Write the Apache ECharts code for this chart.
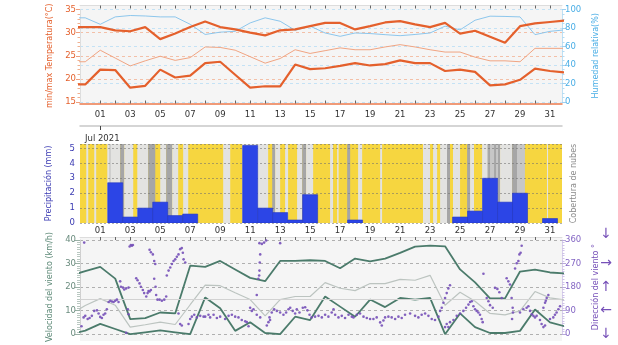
<!DOCTYPE html>
<html>
<head>
<meta charset="utf-8">
<script src="https://cdn.jsdelivr.net/npm/echarts@6/dist/echarts.min.js"></script>
<style>
  html, body { margin: 0; padding: 0; background: #ffffff; }
  #chart { width: 618px; height: 345px; }
</style>
</head>
<body>
<div id="chart"></div>
<script>
// Day-of-month positions (-1 = 29 Jun, 32 = 1 Aug), one reading per day
const dayPos = [-1, 0, 1, 2, 3, 4, 5, 6, 7, 8, 9, 10, 11, 12, 13, 14, 15, 16,
  17, 18, 19, 20, 21, 22, 23, 24, 25, 26, 27, 28, 29, 30, 31, 32];

// Temperature (°C)
const tempMax = [31.2, 31.2, 31.2, 30.5, 30.3, 31.2, 28.6, 29.8, 31.2, 32.4, 31.2, 30.7,
  30.0, 29.4, 30.5, 30.7, 31.4, 32.1, 32.1, 30.7, 31.4, 32.2, 32.5, 31.8, 31.2, 32.1,
  29.8, 30.4, 29.1, 27.8, 31.4, 32.0, 32.3, 32.6];
const tempMin = [18.8, 18.8, 22.0, 21.9, 18.1, 18.5, 22.0, 20.3, 20.7, 23.4, 23.7, 20.9,
  18.1, 18.4, 18.4, 23.1, 22.1, 22.3, 22.8, 23.4, 22.9, 23.2, 24.0, 23.4, 23.4, 21.7,
  22.0, 21.5, 18.6, 18.8, 19.8, 22.2, 21.7, 21.4];
const tempMean = [23.7, 23.7, 26.2, 24.5, 22.8, 23.9, 24.9, 24.0, 24.6, 26.9, 26.8, 26.2,
  24.8, 23.4, 24.4, 26.3, 25.5, 26.1, 26.7, 26.3, 26.3, 26.9, 27.4, 26.9, 26.3, 25.8,
  25.8, 24.7, 23.9, 23.9, 23.7, 26.6, 26.6, 26.6];

// Relative humidity (%)
const humidity = [91, 91, 84, 92, 93.5, 93, 92, 92, 84, 73, 75.5, 76.4, 85.5, 91, 87.3,
  77.5, 82, 74.6, 71, 74.6, 74, 72.8, 71.7, 73, 74.6, 82, 78, 88.4, 92.8, 92.5, 92,
  72.8, 76.4, 78];

// Daily precipitation (mm)
const rainDays = [2, 3, 4, 5, 6, 7, 11, 12, 13, 14, 15, 18, 25, 26, 27, 28, 29, 31];
const rainMm = [2.7, 0.4, 1.0, 1.4, 0.5, 0.6, 5.2, 1.0, 0.7, 0.2, 1.9, 0.2, 0.4, 0.8, 3.0, 1.4, 2.0, 0.3];

// Cloudy spells: [from day, to day, cover level 1 = thin .. 3 = overcast]
const cloudSpells = [
  [0.07, 0.2, 1], [0.6, 0.73, 1], [1.47, 2.33, 1], [1.6, 1.7, 2], [2.33, 2.6, 3], [2.6, 3.2, 1],
  [3.47, 4.2, 1], [4.2, 4.67, 3], [5.0, 5.4, 1], [5.4, 5.8, 3], [5.8, 6.2, 1], [6.53, 6.87, 1],
  [9.2, 9.67, 1], [10.47, 12.2, 1], [12.47, 12.67, 3], [12.67, 13.0, 1], [13.33, 13.53, 1],
  [14.13, 14.47, 1], [14.47, 14.73, 3], [14.73, 15.2, 1], [16.33, 16.53, 1], [16.8, 16.9, 1],
  [17.47, 17.67, 3], [18.2, 18.47, 1], [19.67, 19.8, 1],
  [22.53, 23.0, 1], [23.2, 23.47, 1], [23.67, 24.13, 1], [24.13, 24.33, 3], [24.53, 25.0, 1],
  [25.47, 25.67, 3], [25.67, 25.93, 1], [26.47, 26.8, 1], [26.8, 27.67, 2], [26.87, 27.0, 3],
  [27.27, 27.4, 3], [27.53, 27.67, 3], [27.67, 28.47, 1], [28.47, 28.8, 3], [28.8, 29.33, 2],
  [30.8, 30.87, 1]
];

// Wind speed (km/h)
const windMax = [24.9, 26.8, 28.6, 23.6, 6.4, 6.8, 9.2, 8.8, 29.1, 28.6, 31.1, 27.5, 23.9,
  22.5, 31.1, 31.1, 31.4, 31.1, 28.0, 32.1, 30.9, 32.1, 34.5, 37.2, 37.6, 37.3, 27.5, 22.0,
  15.2, 15.2, 26.6, 27.4, 26.2, 25.8];
const windMean = [8.3, 12.2, 15.1, 12.3, 3.0, 4.0, 5.1, 4.1, 12.5, 20.8, 20.6, 17.6, 14.7,
  7.8, 14.7, 16.0, 16.0, 21.9, 19.5, 18.5, 21.5, 21.5, 23.3, 22.9, 25.0, 12.3, 17.8, 14.0,
  8.8, 8.2, 9.9, 18.1, 15.4, 14.5];
const windMin = [0, 1.5, 4.4, 2.2, 0, 0.8, 1.6, 0.8, 0, 15.6, 11.0, 1.4, 5.1, 0.5, 0, 7.4,
  6.0, 16.0, 11.7, 7.4, 14.7, 11.5, 15.4, 14.7, 15.4, 0, 8.8, 3.0, 0.5, 0.5, 1.4, 10.5,
  5.0, 3.3];
// Reference speed line (km/h)
const windRef = 15;

// Wind direction readings: [day, degrees]
const windDir = [
  [-0.25, 30], [-0.07, 350], [-0.11, 64], [0, 70], [0.16, 58], [0.29, 62], [0.44, 70], [0.6, 89],
  [0.78, 91], [0.89, 79], [1.0, 66], [1.11, 62], [1.22, 74], [1.33, 79], [1.44, 95],
  [1.56, 123], [1.67, 128], [1.78, 125], [1.89, 123], [2.0, 128], [2.11, 132], [2.22, 123],
  [2.33, 202], [2.38, 181], [2.51, 178], [2.6, 171], [2.73, 175], [2.89, 178],
  [2.96, 335], [3.04, 341], [3.11, 338], [3.18, 341], [2.84, 95], [2.89, 76], [2.73, 5],
  [3.4, 214], [3.49, 206], [3.62, 194], [3.71, 181], [3.84, 169], [3.93, 157], [4.07, 144],
  [4.16, 157], [4.22, 165], [4.29, 163], [4.38, 169],
  [4.29, 323], [4.38, 313], [4.51, 305], [4.6, 280], [4.67, 268],
  [4.6, 212], [4.69, 181], [4.73, 150],
  [4.82, 132], [4.96, 132], [5.11, 128], [5.27, 132], [5.4, 144],
  [5.44, 224], [5.56, 243], [5.67, 255], [5.78, 268], [5.89, 280], [6.0, 286], [6.11, 296],
  [6.22, 305], [6.33, 325], [6.44, 329], [6.51, 311], [6.56, 286], [6.67, 274],
  [6.22, 79], [6.33, 39], [6.44, 33],
  [6.89, 39], [7.0, 58], [7.11, 67], [7.27, 74], [7.44, 64], [7.67, 70], [7.89, 67], [8.0, 67],
  [8.22, 74], [8.33, 64], [8.56, 74], [8.78, 62], [9.0, 67], [9.33, 58], [9.56, 70], [9.78, 74],
  [10.0, 67], [10.22, 64], [10.44, 54], [10.67, 49], [10.78, 46], [10.89, 30],
  [11.0, 101], [11.11, 89], [11.22, 95], [11.44, 150], [11.44, 74], [11.55, 212], [11.6, 224],
  [11.62, 243], [11.64, 274], [11.67, 305], [11.62, 348], [11.78, 345], [11.93, 350],
  [12.07, 358], [11.67, 64],
  [12.11, 33], [12.22, 46], [12.29, 64], [12.33, 54], [13.0, 348],
  [12.44, 83], [12.6, 95], [12.78, 89], [13.0, 83], [13.22, 74], [13.4, 83], [13.56, 95],
  [13.67, 101], [13.84, 89], [14.0, 79], [14.11, 95], [14.29, 83], [14.51, 101], [14.67, 103],
  [14.82, 91],
  [14.96, 74], [15.1, 64], [15.33, 67], [15.56, 70], [15.78, 64], [16.0, 74], [16.22, 67],
  [16.44, 83], [16.56, 95], [16.67, 74], [16.89, 64], [17.11, 70], [17.33, 62], [17.56, 74],
  [17.78, 67], [17.89, 64], [18.11, 74], [18.33, 79], [18.56, 67], [18.78, 62], [19.0, 58],
  [19.22, 58], [19.44, 64], [19.67, 45], [19.78, 33], [19.89, 52], [20.0, 64], [20.22, 67],
  [20.44, 64], [20.67, 58], [20.89, 67],
  [21.11, 62], [21.33, 74], [21.67, 79], [22.0, 70], [22.22, 64], [22.44, 74], [22.67, 79],
  [22.89, 70], [23.11, 58], [23.33, 54], [23.56, 67],
  [23.67, 89], [23.78, 101], [23.89, 120], [24.0, 138], [24.11, 157], [24.22, 175], [24.33, 187],
  [24.0, 27], [24.11, 39], [24.22, 27], [24.33, 46],
  [24.56, 54], [24.78, 70], [25.0, 79], [25.22, 89], [25.4, 101], [25.56, 113], [25.67, 123],
  [25.78, 126], [25.89, 107], [26.0, 95], [26.11, 89], [26.22, 83], [26.33, 74], [26.44, 58],
  [26.51, 46], [26.56, 231],
  [26.78, 138], [26.89, 126], [27.0, 111], [27.18, 101],
  [27.33, 177], [27.49, 173], [27.62, 160], [27.78, 138],
  [28.11, 214], [28.22, 202], [28.33, 190], [28.44, 138], [28.51, 101], [28.53, 83], [28.47, 58],
  [28.67, 251], [28.78, 271], [28.89, 280], [28.96, 305], [29.04, 311], [29.11, 338],
  [29.0, 83], [29.22, 95], [29.44, 101], [29.56, 107], [29.67, 89], [29.78, 76], [29.89, 70],
  [30.0, 64], [30.11, 70], [30.33, 54], [30.44, 39], [30.56, 27], [30.67, 33],
  [30.56, 101], [30.67, 120], [30.72, 128], [30.78, 138], [30.89, 150],
  [31.0, 58], [31.22, 64], [31.33, 74], [31.44, 83], [31.56, 95], [31.67, 107]
];

// Axis ticks and labels
const tickDays = [1, 2, 3, 4, 5, 6, 7, 8, 9, 10, 11, 12, 13, 14, 15, 16, 17, 18, 19, 20,
  21, 22, 23, 24, 25, 26, 27, 28, 29, 30, 31];
const labelDays = [1, 3, 5, 7, 9, 11, 13, 15, 17, 19, 21, 23, 25, 27, 29, 31];
const monthTick = [1];
const compass = { 0: '↓', 90: '←', 180: '↑', 270: '→', 360: '{top|↓}' };

// ---- rendering ----
const FONT = 'DejaVu Sans';
const X_MIN = -0.35, X_MAX = 31.8;
const C_TEMP = '#e4602c', C_HUM = '#4aaee6', C_RAIN = '#3a3ab2', C_WIND = '#4b7b6b', C_DIR = '#7650b8';
const cloudColors = { 1: '#e3e3e1', 2: '#c7c7c7', 3: '#a6a6a6' };

const pairs = vals => vals.map((v, i) => [dayPos[i], v]);
const pad2 = v => (v < 10 ? '0' : '') + v;

function dayAxis(grid, pos, extra) {
  const axis = Object.assign({
    type: 'value', gridIndex: grid, position: pos, min: X_MIN, max: X_MAX,
    axisLine: { show: false }, axisTick: { show: false }, axisLabel: { show: false },
    splitLine: { show: false }
  }, extra);
  // keep each day axis on its own panel edge
  axis.axisLine = Object.assign({ onZero: false }, axis.axisLine);
  return axis;
}

const chart = echarts.init(document.getElementById('chart'), null, { renderer: 'canvas' });

const option = {
  animation: false,
  backgroundColor: '#ffffff',
  textStyle: { fontFamily: FONT },
  title: {
    text: 'Jul 2021', left: 80, top: 129,
    textStyle: { fontFamily: FONT, fontSize: 8.5, fontWeight: 'normal', color: '#333' }
  },
  grid: [
    { left: 80, right: 56, top: 5, height: 98, show: true, backgroundColor: '#f5f5f5', borderWidth: 0 },
    { left: 80, right: 56, top: 9.5, height: 92.5 },
    { left: 80, right: 56, top: 144, height: 79, show: true, backgroundColor: '#f6d640', borderWidth: 0 },
    { left: 80, right: 56, top: 237, height: 104, show: true, backgroundColor: '#f5f5f5', borderWidth: 0 },
    { left: 80, right: 56, top: 240, height: 97.3 }
  ],
  xAxis: [
    dayAxis(0, 'bottom'),
    // top panel: orange base line with labels
    dayAxis(1, 'bottom', {
      offset: 1.5,
      axisLine: { show: true, lineStyle: { color: '#ec7a4c', width: 1.5 } },
      axisTick: { show: true, inside: true, length: 3, customValues: tickDays, lineStyle: { color: '#666' } },
      axisLabel: { show: true, customValues: labelDays, formatter: pad2, fontSize: 8.5, color: '#333', margin: 7 }
    }),
    dayAxis(1, 'top', {
      offset: 4,
      axisLine: { show: true, lineStyle: { color: '#dddddd' } },
      axisTick: { show: true, inside: true, length: 3, customValues: tickDays, lineStyle: { color: '#666' } }
    }),
    // middle panel
    dayAxis(2, 'bottom', {
      axisLabel: { show: true, customValues: labelDays, formatter: pad2, fontSize: 8.5, color: '#333', margin: 3 }
    }),
    dayAxis(2, 'top', {
      offset: 18,
      axisLine: { show: true, lineStyle: { color: '#c8c8c8', width: 1.5 } },
      axisTick: { show: true, inside: true, length: 4, customValues: monthTick, lineStyle: { color: '#444' } }
    }),
    dayAxis(3, 'bottom'),
    // bottom panel
    dayAxis(4, 'top', {
      offset: 3,
      axisLine: { show: true, lineStyle: { color: '#dddddd' } },
      axisTick: { show: true, inside: true, length: 3, customValues: tickDays, lineStyle: { color: '#666' } }
    }),
    dayAxis(4, 'bottom')
  ],
  yAxis: [
    { type: 'value', gridIndex: 0, show: false },
    // 1: temperature
    {
      type: 'value', gridIndex: 1, position: 'left', min: 15, max: 35, interval: 5,
      name: 'min/max Temperatura(°C)', nameLocation: 'middle', nameGap: 23,
      nameTextStyle: { color: C_TEMP, fontSize: 8, fontFamily: FONT },
      axisLine: { show: true, onZero: false, lineStyle: { color: '#dddddd' } },
      axisTick: { show: true, length: 4, lineStyle: { color: '#f0a080' } },
      minorTick: { show: true, splitNumber: 5, length: 2.5, lineStyle: { color: '#f0b090' } },
      axisLabel: { color: C_TEMP, fontSize: 8.5, margin: 4 },
      splitLine: { show: true, lineStyle: { color: '#f3c0a8', type: [3, 3], width: 1 } }
    },
    // 2: humidity
    {
      type: 'value', gridIndex: 1, position: 'right', min: 0, max: 100, interval: 20,
      name: 'Humedad relativa(%)', nameLocation: 'middle', nameGap: 25,
      nameTextStyle: { color: C_HUM, fontSize: 8, fontFamily: FONT },
      axisLine: { show: true, onZero: false, lineStyle: { color: '#bfe0f4' } },
      axisTick: { show: true, length: 4, lineStyle: { color: '#9fd0f0' } },
      minorTick: { show: true, splitNumber: 4, length: 2.5, lineStyle: { color: '#b5dcf3' } },
      axisLabel: { color: C_HUM, fontSize: 8.5, margin: 3 },
      splitLine: { show: true, lineStyle: { color: '#c4e2f5', type: [3, 3], width: 1 } }
    },
    // 3: precipitation
    {
      type: 'value', gridIndex: 2, position: 'left', min: 0, max: 5.3, interval: 1, z: 3,
      name: 'Precipitación (mm)', nameLocation: 'middle', nameGap: 27,
      nameTextStyle: { color: C_RAIN, fontSize: 8, fontFamily: FONT },
      axisLine: { show: false }, axisTick: { show: false },
      axisLabel: { color: C_RAIN, fontSize: 8.5, margin: 5, formatter: v => (Number.isInteger(v) ? v : '') },
      splitLine: { show: true, lineStyle: { color: 'rgba(110,110,110,0.55)', type: [2, 2], width: 1 } }
    },
    // 4: cloud cover caption
    {
      type: 'value', gridIndex: 2, position: 'right', min: 0, max: 1,
      name: 'Cobertura de nubes', nameLocation: 'middle', nameGap: 8,
      nameTextStyle: { color: '#8a8a8a', fontSize: 8, fontFamily: FONT },
      axisLine: { show: false }, axisTick: { show: false }, axisLabel: { show: false }, splitLine: { show: false }
    },
    { type: 'value', gridIndex: 3, show: false },
    // 6: wind speed
    {
      type: 'value', gridIndex: 4, position: 'left', min: 0, max: 40, interval: 10,
      name: 'Velocidad del viento (km/h)', nameLocation: 'middle', nameGap: 23,
      nameTextStyle: { color: '#5e8a78', fontSize: 8, fontFamily: FONT },
      axisLine: { show: true, onZero: false, lineStyle: { color: '#cfcfcf' } },
      axisTick: { show: true, length: 5, lineStyle: { color: '#9ab0a6' } },
      minorTick: { show: true, splitNumber: 10, length: 3, lineStyle: { color: '#b9c8c1' } },
      axisLabel: { color: '#6a8c7e', fontSize: 8.5, margin: 4 },
      splitLine: { show: true, lineStyle: { color: '#b0b0b0', type: [3, 3], width: 1 } }
    },
    // 7: wind direction
    {
      type: 'value', gridIndex: 4, position: 'right', min: 0, max: 360, interval: 90,
      name: 'Dirección del viento °', nameLocation: 'middle', nameGap: 24,
      nameTextStyle: { color: C_DIR, fontSize: 8, fontFamily: FONT },
      axisLine: { show: true, onZero: false, lineStyle: { color: '#d8d0ea' } },
      axisTick: { show: true, length: 4, lineStyle: { color: '#b9a8dc' } },
      minorTick: { show: true, splitNumber: 9, length: 2.5, lineStyle: { color: '#cfc3e8' } },
      axisLabel: { color: '#8466c4', fontSize: 8.5, margin: 3 },
      splitLine: { show: false }
    },
    // 8: compass arrows beside the direction scale
    {
      type: 'value', gridIndex: 4, position: 'right', min: 0, max: 360, interval: 90,
      axisLine: { show: false }, axisTick: { show: false }, splitLine: { show: false },
      axisLabel: {
        color: C_DIR, fontSize: 14, margin: 44, align: 'center', formatter: v => compass[v] || '',
        rich: { top: { color: C_DIR, fontSize: 14, padding: [0, 0, 11, 0] } }
      }
    }
  ],
  series: [
    // cloud cover spells behind the rain bars
    {
      type: 'custom', xAxisIndex: 3, yAxisIndex: 3, z: 1, clip: true,
      data: cloudSpells,
      renderItem: (params, api) => {
        const a = api.coord([api.value(0), 0]);
        const b = api.coord([api.value(1), 0]);
        const cs = params.coordSys;
        return {
          type: 'rect',
          shape: { x: a[0], y: cs.y, width: Math.max(b[0] - a[0], 1), height: cs.height },
          style: { fill: cloudColors[api.value(2)] }
        };
      }
    },
    // daily precipitation bars, one day wide
    {
      type: 'custom', xAxisIndex: 3, yAxisIndex: 3, z: 5, clip: true,
      data: rainDays.map((d, i) => [d, rainMm[i]]),
      renderItem: (params, api) => {
        const d = api.value(0);
        const top = api.coord([d - 0.5, api.value(1)]);
        const base = api.coord([d + 0.5, 0]);
        return {
          type: 'rect',
          shape: { x: top[0], y: top[1], width: base[0] - top[0], height: base[1] - top[1] },
          style: { fill: '#2c45e6', stroke: '#2236c4', lineWidth: 0.6 }
        };
      }
    },
    {
      type: 'line', xAxisIndex: 1, yAxisIndex: 2, data: pairs(humidity), symbol: 'none',
      lineStyle: { color: '#8cc6ec', width: 1 }, z: 3
    },
    {
      type: 'line', xAxisIndex: 1, yAxisIndex: 1, data: pairs(tempMean), symbol: 'none',
      lineStyle: { color: '#f0a482', width: 1 }, z: 4
    },
    {
      type: 'line', xAxisIndex: 1, yAxisIndex: 1, data: pairs(tempMax), symbol: 'none',
      lineStyle: { color: C_TEMP, width: 2.2 }, z: 5
    },
    {
      type: 'line', xAxisIndex: 1, yAxisIndex: 1, data: pairs(tempMin), symbol: 'none',
      lineStyle: { color: C_TEMP, width: 2.2 }, z: 5
    },
    {
      type: 'line', xAxisIndex: 6, yAxisIndex: 6, data: pairs(windMean), symbol: 'none',
      lineStyle: { color: '#bcc4c0', width: 1.2 }, z: 3,
      markLine: {
        silent: true, symbol: 'none', label: { show: false },
        lineStyle: { color: '#d2d2d2', type: 'solid', width: 1 },
        data: [{ yAxis: windRef }]
      }
    },
    {
      type: 'line', xAxisIndex: 6, yAxisIndex: 6, data: pairs(windMax), symbol: 'none',
      lineStyle: { color: C_WIND, width: 1.8 }, z: 4
    },
    {
      type: 'line', xAxisIndex: 6, yAxisIndex: 6, data: pairs(windMin), symbol: 'none',
      lineStyle: { color: C_WIND, width: 1.8 }, z: 4
    },
    {
      type: 'scatter', xAxisIndex: 6, yAxisIndex: 7, data: windDir, symbol: 'circle',
      symbolSize: 2.6, itemStyle: { color: C_DIR, opacity: 0.9 }, z: 6, clip: true
    }
  ]
};

chart.setOption(option);
</script>
</body>
</html>
